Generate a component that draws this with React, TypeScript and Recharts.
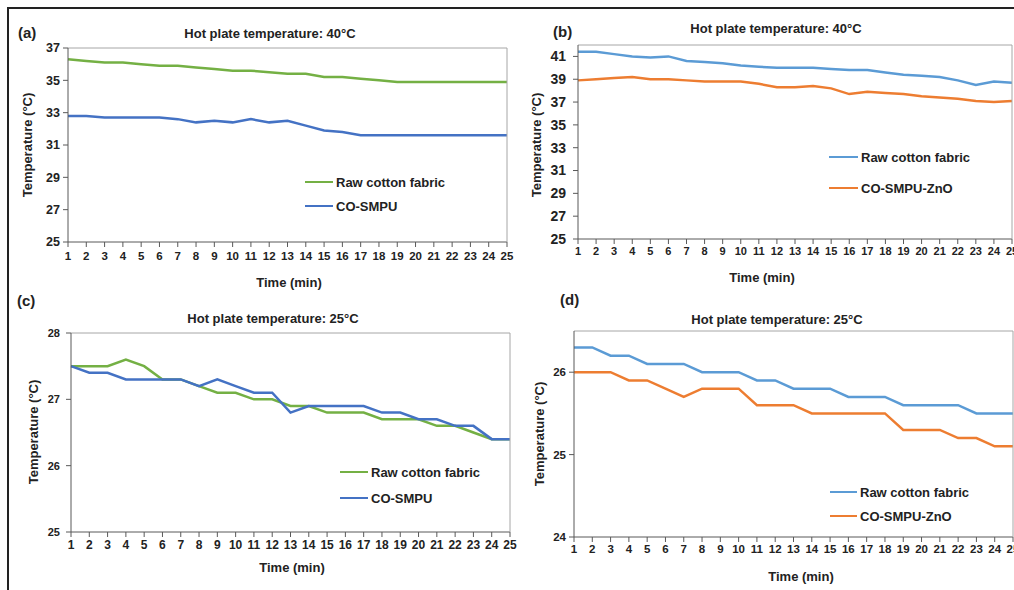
import React from "react";
import { LineChart, Line, XAxis, YAxis } from "recharts";

// time axis shared by all four panels
const minutes = [1, 2, 3, 4, 5, 6, 7, 8, 9, 10, 11, 12, 13, 14, 15, 16, 17, 18, 19, 20, 21, 22, 23, 24, 25];

// (a) hot plate 40°C
const rawA = [36.3, 36.2, 36.1, 36.1, 36.0, 35.9, 35.9, 35.8, 35.7, 35.6, 35.6, 35.5, 35.4, 35.4, 35.2, 35.2, 35.1, 35.0, 34.9, 34.9, 34.9, 34.9, 34.9, 34.9, 34.9];
const smpuA = [32.8, 32.8, 32.7, 32.7, 32.7, 32.7, 32.6, 32.4, 32.5, 32.4, 32.6, 32.4, 32.5, 32.2, 31.9, 31.8, 31.6, 31.6, 31.6, 31.6, 31.6, 31.6, 31.6, 31.6, 31.6];
const ticksA = [25, 27, 29, 31, 33, 35, 37];

// (b) hot plate 40°C
const rawB = [41.4, 41.4, 41.2, 41.0, 40.9, 41.0, 40.6, 40.5, 40.4, 40.2, 40.1, 40.0, 40.0, 40.0, 39.9, 39.8, 39.8, 39.6, 39.4, 39.3, 39.2, 38.9, 38.5, 38.8, 38.7];
const zincB = [38.9, 39.0, 39.1, 39.2, 39.0, 39.0, 38.9, 38.8, 38.8, 38.8, 38.6, 38.3, 38.3, 38.4, 38.2, 37.7, 37.9, 37.8, 37.7, 37.5, 37.4, 37.3, 37.1, 37.0, 37.1];
const ticksB = [25, 27, 29, 31, 33, 35, 37, 39, 41];

// (c) hot plate 25°C
const rawC = [27.5, 27.5, 27.5, 27.6, 27.5, 27.3, 27.3, 27.2, 27.1, 27.1, 27.0, 27.0, 26.9, 26.9, 26.8, 26.8, 26.8, 26.7, 26.7, 26.7, 26.6, 26.6, 26.5, 26.4, 26.4];
const smpuC = [27.5, 27.4, 27.4, 27.3, 27.3, 27.3, 27.3, 27.2, 27.3, 27.2, 27.1, 27.1, 26.8, 26.9, 26.9, 26.9, 26.9, 26.8, 26.8, 26.7, 26.7, 26.6, 26.6, 26.4, 26.4];
const ticksC = [25, 26, 27, 28];

// (d) hot plate 25°C
const rawD = [26.3, 26.3, 26.2, 26.2, 26.1, 26.1, 26.1, 26.0, 26.0, 26.0, 25.9, 25.9, 25.8, 25.8, 25.8, 25.7, 25.7, 25.7, 25.6, 25.6, 25.6, 25.6, 25.5, 25.5, 25.5];
const zincD = [26.0, 26.0, 26.0, 25.9, 25.9, 25.8, 25.7, 25.8, 25.8, 25.8, 25.6, 25.6, 25.6, 25.5, 25.5, 25.5, 25.5, 25.5, 25.3, 25.3, 25.3, 25.2, 25.2, 25.1, 25.1];
const ticksD = [24, 25, 26];

const FONT = '"Liberation Sans", Arial, sans-serif';
const INK = "#222";
const AXIS = "#595959";
const BORDER = "#a6a6a6";
const GREEN = "#74B044";
const BLUE = "#4472C4";
const LIGHT_BLUE = "#5B9BD5";
const ORANGE = "#ED7D31";

const Y_AXIS_W = 40;
const X_AXIS_H = 20;

type Rect = { left: number; top: number; right: number; bottom: number };

type PanelSpec = {
  letter: string;
  letterPos: [number, number];
  title: string;
  titlePos: [number, number];
  yTitlePos: [number, number];
  xTitlePos: [number, number];
  box: { x: number; y: number; w: number; h: number };
  plot: Rect;
  domain: [number, number];
  ticks: number[];
  first: number[];
  second: number[];
  names: [string, string];
  colors: [string, string];
  legend: { x1: number; x2: number; y1: number; y2: number };
  yTickFont: number;
  xTickFont: number;
  yTickMargin: number;
  xTickMargin: number;
};

const panels: PanelSpec[] = [
  {
    letter: "(a)", letterPos: [18, 32],
    title: "Hot plate temperature: 40°C", titlePos: [270, 33],
    yTitlePos: [27, 145], xTitlePos: [289, 282],
    box: { x: 20, y: 40, w: 500, h: 240 },
    plot: { left: 68, top: 48, right: 507, bottom: 242 },
    domain: [25, 37], ticks: ticksA, first: rawA, second: smpuA,
    names: ["Raw cotton fabric", "CO-SMPU"], colors: [GREEN, BLUE],
    legend: { x1: 305, x2: 333, y1: 182, y2: 206 },
    yTickFont: 12.5, xTickFont: 11.5, yTickMargin: 3, xTickMargin: 5,
  },
  {
    letter: "(b)", letterPos: [553, 31],
    title: "Hot plate temperature: 40°C", titlePos: [776, 28],
    yTitlePos: [536, 145], xTitlePos: [762, 277],
    box: { x: 530, y: 38, w: 510, h: 230 },
    plot: { left: 578, top: 45, right: 1012, bottom: 239 },
    domain: [25, 42], ticks: ticksB, first: rawB, second: zincB,
    names: ["Raw cotton fabric", "CO-SMPU-ZnO"], colors: [LIGHT_BLUE, ORANGE],
    legend: { x1: 829, x2: 858, y1: 157, y2: 188 },
    yTickFont: 14, xTickFont: 11, yTickMargin: 7, xTickMargin: 3,
  },
  {
    letter: "(c)", letterPos: [17, 300],
    title: "Hot plate temperature: 25°C", titlePos: [273, 318],
    yTitlePos: [33, 432], xTitlePos: [292, 567],
    box: { x: 20, y: 325, w: 500, h: 235 },
    plot: { left: 71, top: 333, right: 510, bottom: 532 },
    domain: [25, 28], ticks: ticksC, first: rawC, second: smpuC,
    names: ["Raw cotton fabric", "CO-SMPU"], colors: [GREEN, BLUE],
    legend: { x1: 340, x2: 368, y1: 472, y2: 498 },
    yTickFont: 11, xTickFont: 12, yTickMargin: 6, xTickMargin: 3,
  },
  {
    letter: "(d)", letterPos: [560, 299],
    title: "Hot plate temperature: 25°C", titlePos: [777, 319],
    yTitlePos: [539, 434], xTitlePos: [801, 576],
    box: { x: 530, y: 322, w: 510, h: 250 },
    plot: { left: 574, top: 331, right: 1013, bottom: 537 },
    domain: [24, 26.5], ticks: ticksD, first: rawD, second: zincD,
    names: ["Raw cotton fabric", "CO-SMPU-ZnO"], colors: [LIGHT_BLUE, ORANGE],
    legend: { x1: 830, x2: 857, y1: 492, y2: 516 },
    yTickFont: 11.5, xTickFont: 11.5, yTickMargin: 3, xTickMargin: 3,
  },
];

const textStyle: React.CSSProperties = {
  position: "absolute",
  fontFamily: FONT,
  fontWeight: 700,
  color: INK,
  whiteSpace: "nowrap",
  lineHeight: 1,
};

function Centered({ at, size, children, rotate }: { at: [number, number]; size: number; children: React.ReactNode; rotate?: boolean }) {
  return (
    <div
      style={{
        ...textStyle,
        left: at[0],
        top: at[1],
        fontSize: size,
        transform: `translate(-50%, -50%)${rotate ? " rotate(-90deg)" : ""}`,
      }}
    >
      {children}
    </div>
  );
}

function LegendRow({ x1, x2, y, color, name }: { x1: number; x2: number; y: number; color: string; name: string }) {
  return (
    <>
      <div style={{ position: "absolute", left: x1, top: y - 1.25, width: x2 - x1, height: 2.5, background: color }} />
      <div style={{ ...textStyle, left: x2 + 3, top: y, fontSize: 13, transform: "translateY(-50%)" }}>{name}</div>
    </>
  );
}

function Panel({ spec }: { spec: PanelSpec }) {
  const { box, plot } = spec;
  // margins place the plot rectangle at its page position (axes take the rest)
  const margin = {
    top: plot.top - box.y - 1,
    left: plot.left - box.x - Y_AXIS_W,
    right: box.x + box.w - plot.right - 1,
    bottom: box.y + box.h - plot.bottom - X_AXIS_H,
  };
  const rows = minutes.map((m, i) => ({ t: m, first: spec.first[i], second: spec.second[i] }));
  const tickFont = (size: number) => ({ fill: INK, fontSize: size, fontWeight: 700, fontFamily: FONT });

  return (
    <>
      <div style={{ position: "absolute", left: box.x, top: box.y }}>
        <LineChart width={box.w} height={box.h} data={rows} margin={margin}>
          <XAxis
            dataKey="t"
            scale="point"
            padding={{ left: 0, right: 0 }}
            interval={0}
            height={X_AXIS_H}
            axisLine={{ stroke: AXIS }}
            tickLine={{ stroke: AXIS }}
            tickSize={5}
            tickMargin={spec.xTickMargin}
            tick={tickFont(spec.xTickFont)}
          />
          <XAxis xAxisId="top" orientation="top" dataKey="t" scale="point" padding={{ left: 0, right: 0 }} height={1} tick={false} tickLine={false} axisLine={{ stroke: BORDER }} />
          <YAxis
            type="number"
            domain={spec.domain}
            ticks={spec.ticks}
            interval={0}
            allowDataOverflow
            width={Y_AXIS_W}
            axisLine={{ stroke: AXIS }}
            tickLine={{ stroke: AXIS }}
            tickSize={5}
            tickMargin={spec.yTickMargin}
            tick={tickFont(spec.yTickFont)}
          />
          <YAxis yAxisId="right" orientation="right" width={1} tick={false} tickLine={false} axisLine={{ stroke: BORDER }} />
          <Line dataKey="first" name={spec.names[0]} stroke={spec.colors[0]} strokeWidth={2.5} dot={false} isAnimationActive={false} />
          <Line dataKey="second" name={spec.names[1]} stroke={spec.colors[1]} strokeWidth={2.5} dot={false} isAnimationActive={false} />
        </LineChart>
      </div>
      <div style={{ ...textStyle, left: spec.letterPos[0], top: spec.letterPos[1], fontSize: 15, transform: "translateY(-50%)" }}>
        {spec.letter}
      </div>
      <Centered at={spec.titlePos} size={13}>{spec.title}</Centered>
      <Centered at={spec.yTitlePos} size={13} rotate>Temperature (°C)</Centered>
      <Centered at={spec.xTitlePos} size={13}>Time (min)</Centered>
      <LegendRow x1={spec.legend.x1} x2={spec.legend.x2} y={spec.legend.y1} color={spec.colors[0]} name={spec.names[0]} />
      <LegendRow x1={spec.legend.x1} x2={spec.legend.x2} y={spec.legend.y2} color={spec.colors[1]} name={spec.names[1]} />
    </>
  );
}

export default function App() {
  return (
    <div
      style={{
        position: "absolute",
        left: 0,
        top: 0,
        width: 1014,
        height: 590,
        overflow: "hidden",
        background: "#fff",
      }}
    >
      {/* outer frame: only the top and left edges are inside the picture */}
      <div style={{ position: "absolute", left: 7, top: 7, width: 1100, height: 700, borderTop: "2px solid #222", borderLeft: "2px solid #222" }} />
      {panels.map((p) => (
        <Panel key={p.letter} spec={p} />
      ))}
    </div>
  );
}
